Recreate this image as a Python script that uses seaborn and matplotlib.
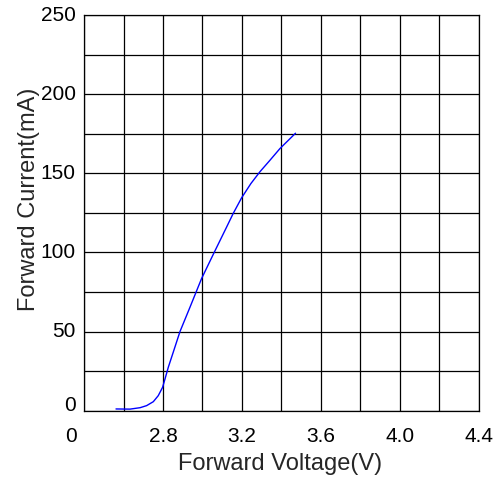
import matplotlib
matplotlib.use("Agg")
import matplotlib.pyplot as plt
from matplotlib.transforms import ScaledTranslation
import numpy as np
import pandas as pd
import seaborn as sns

# Data
voltage = [2.562, 2.633, 2.684, 2.717, 2.751, 2.776, 2.798, 2.81, 2.827, 2.852,
           2.886, 2.937, 2.995, 3.06, 3.122, 3.155, 3.198, 3.245, 3.291,
           3.34, 3.392, 3.471]
current = [1.1, 1.0, 1.9, 3.2, 5.7, 9.5, 14.8, 20.0, 27.5, 37.0,
           50.0, 65.5, 83.4, 100.2, 116.0, 124.5, 134.5, 143.5, 151.0,
           158.0, 165.6, 175.3]

x_ticks = [2.4, 2.6, 2.8, 3.0, 3.2, 3.4, 3.6, 3.8, 4.0, 4.2, 4.4]
x_labels = ["0", "", "2.8", "", "3.2", "", "3.6", "", "4.0", "", "4.4"]
y_ticks = [0, 25, 50, 75, 100, 125, 150, 175, 200, 225, 250]
y_labels = ["0", "", "50", "", "100", "", "150", "", "200", "", "250"]

sns.set_style("white")
plt.rcParams['font.family'] = ['Liberation Sans', 'DejaVu Sans']

dpi = 100
fig = plt.figure(figsize=(4.94, 4.81), dpi=dpi)
ax = fig.add_axes([84/494, 1 - 411.7/481, 395/494, 395.7/481])

df = pd.DataFrame({"V": voltage, "I": current})
sns.lineplot(data=df, x="V", y="I", sort=False, estimator=None, color="#0000FF",
             linewidth=1.0, ax=ax)

ax.set_xlim(2.4, 4.4)
ax.set_ylim(0, 250)
ax.set_xticks(x_ticks)
ax.set_xticklabels(x_labels)
ax.set_yticks(y_ticks)
ax.set_yticklabels(y_labels)
ax.grid(True, color="black", linewidth=0.9)
ax.set_axisbelow(True)
for s in ax.spines.values():
    s.set_color("black")
    s.set_linewidth(0.9)
ax.tick_params(axis="x", length=0, pad=11, labelsize=15, colors="black")
ax.tick_params(axis="y", length=0, pad=6, labelsize=15, colors="black")
ax.set_xlabel("")
ax.set_ylabel("")

# small label offsets, as in the reference
for lab in ax.get_xticklabels():
    if lab.get_text() == "0":
        lab.set_transform(lab.get_transform() + ScaledTranslation(-13/dpi, 0, fig.dpi_scale_trans))
for lab in ax.get_yticklabels():
    dy = 8 if lab.get_text() == "0" else 3
    lab.set_transform(lab.get_transform() + ScaledTranslation(0, dy/dpi, fig.dpi_scale_trans))

fig.text(280/494, 1 - 464/481, "Forward Voltage(V)", fontsize=17, ha="center", va="center")
fig.text(29/494, 1 - 199/481, "Forward Current(mA)", fontsize=17, ha="center", va="center",
         rotation=90)

fig.savefig("out.png", dpi=dpi, facecolor="white")
